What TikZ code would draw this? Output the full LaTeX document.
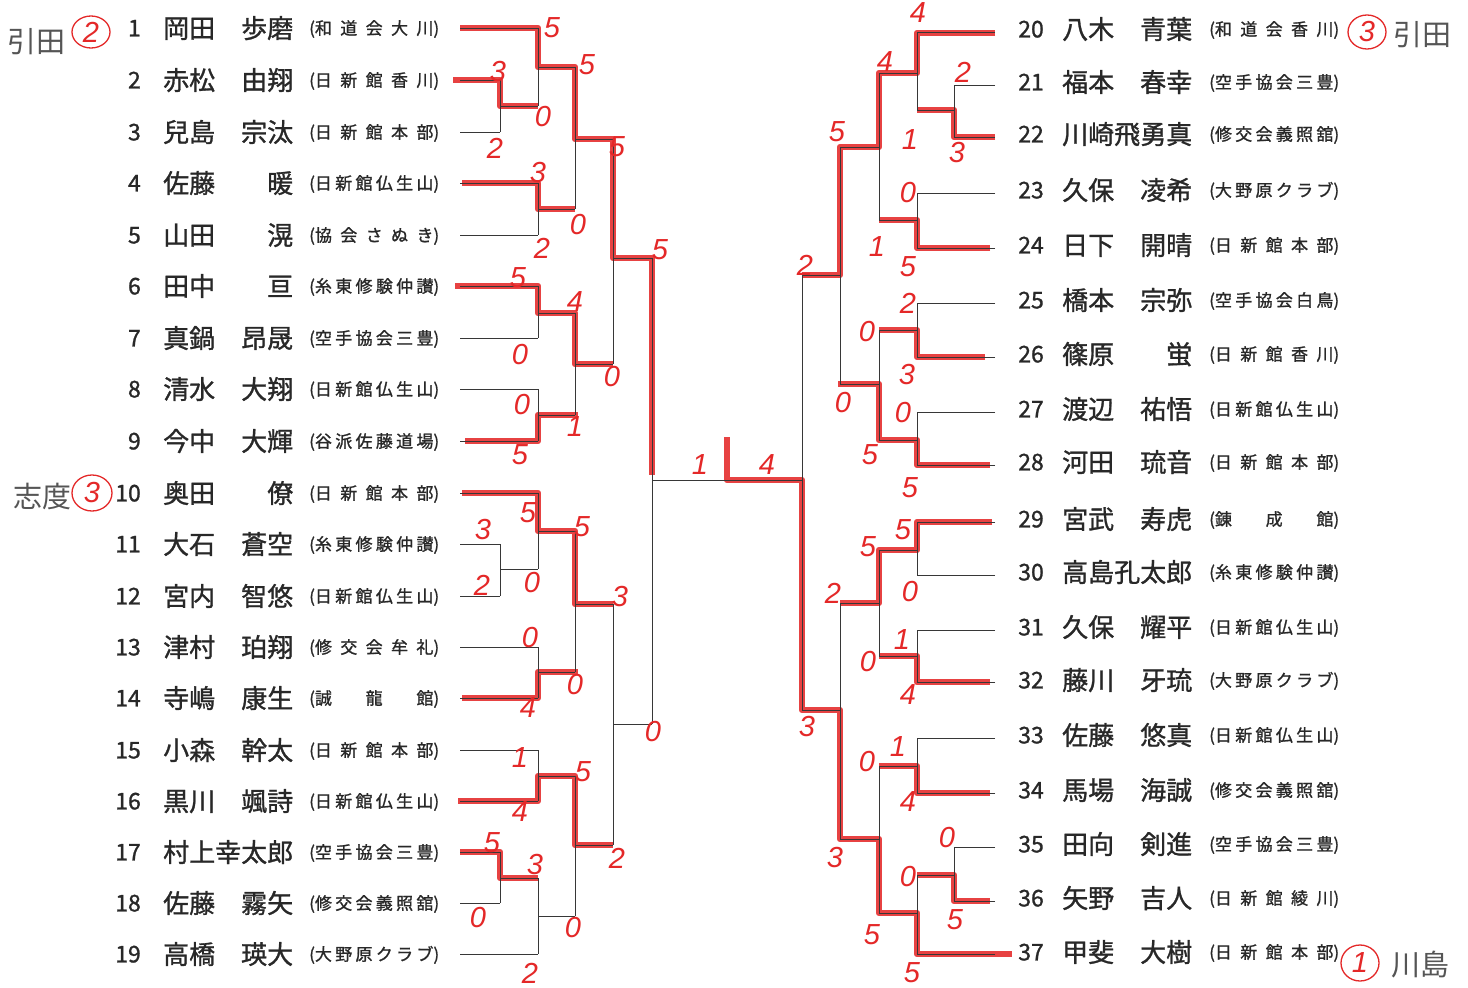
\documentclass[tikz,border=0pt]{standalone}
\usepackage{fontspec}
\setmainfont{Noto Sans CJK JP}
\newfontfamily\entryfont{Noto Sans CJK JP}[FakeBold=1.1]
\newfontfamily\scorefont{Liberation Sans}

\definecolor{pen}{RGB}{228,40,40}
\definecolor{ink}{RGB}{40,40,40}
\definecolor{rule}{RGB}{55,55,55}
\definecolor{pencil}{RGB}{85,85,85}

% club names are spread over a fixed width
\newlength\clubw \setlength\clubw{130pt}
\def\spreadfirst#1#2\relax{#1\spreadrest#2\relax}
\def\spreadrest#1{\ifx\relax#1\else\hfill#1\expandafter\spreadrest\fi}
\newcommand\clubtext[1]{\makebox[\clubw][s]{(\expandafter\spreadfirst#1\relax)}}
\newcommand\namefield[2]{\makebox[130pt][s]{#1\hfill#2}}

\tikzset{
  entrynum/.style={anchor=base east, inner sep=0pt, text=ink, font=\entryfont\fontsize{23}{23}\selectfont},
  entryname/.style={anchor=base west, inner sep=0pt, text=ink, font=\entryfont\fontsize{26}{26}\selectfont},
  entryclub/.style={anchor=base west, inner sep=0pt, text=ink, font=\entryfont\fontsize{17}{17}\selectfont},
  score/.style={inner sep=0pt, text=pen, font=\scorefont\itshape\fontsize{29}{29}\selectfont},
  winpath/.style={draw=pen, line width=6.5pt, line join=round, opacity=0.88},
  bracket/.style={draw=rule, line width=1pt},
  pencilnote/.style={inner sep=0pt, text=pencil, font=\fontsize{29}{29}\selectfont},
}

\begin{document}
\begin{tikzpicture}[x=1pt, y=-1pt]
  \useasboundingbox (0,0) rectangle (1468,988);
  \fill[white] (0,0) rectangle (1468,988);

  % winners: red crayon over the bracket
  \draw[winpath] (460,28) -- (538,28) -- (538,67) -- (575,67) -- (575,139) -- (613,139) -- (613,258) -- (652,258) -- (652,475);
  \draw[winpath] (453,80) -- (500,80) -- (500,106) -- (538,106);
  \draw[winpath] (462,183) -- (538,183) -- (538,209) -- (575,209);
  \draw[winpath] (455,286) -- (538,286) -- (538,313) -- (575,313) -- (575,364) -- (613,364);
  \draw[winpath] (465,441) -- (538,441) -- (538,415) -- (578,415);
  \draw[winpath] (462,493) -- (538,493) -- (538,531) -- (575,531) -- (575,604) -- (613,604);
  \draw[winpath] (462,698) -- (538,698) -- (538,672) -- (578,672);
  \draw[winpath] (458,801) -- (538,801) -- (538,776) -- (575,776) -- (575,845) -- (613,845);
  \draw[winpath] (460,852) -- (500,852) -- (500,878) -- (538,878);
  \draw[winpath] (727,437) -- (727,480) -- (802,480) -- (802,710) -- (840,710) -- (840,839) -- (879,839) -- (879,913) -- (917,913) -- (917,954) -- (1012,954);
  \draw[winpath] (995,33) -- (917,33) -- (917,73) -- (879,73) -- (879,147) -- (840,147) -- (840,275) -- (802,275);
  \draw[winpath] (995,137) -- (954,137) -- (954,110) -- (917,110);
  \draw[winpath] (990,248) -- (917,248) -- (917,220) -- (879,220);
  \draw[winpath] (985,357) -- (917,357) -- (917,330) -- (879,330);
  \draw[winpath] (990,465) -- (917,465) -- (917,440) -- (879,440) -- (879,384) -- (838,384);
  \draw[winpath] (992,522) -- (917,522) -- (917,550) -- (879,550) -- (879,603) -- (840,603);
  \draw[winpath] (990,682) -- (917,682) -- (917,656) -- (879,656);
  \draw[winpath] (990,793) -- (917,793) -- (917,766) -- (879,766);
  \draw[winpath] (990,901) -- (954,901) -- (954,875) -- (917,875);

  % bracket: entry lines
  \foreach \y/\xe in {28/538,80/500,132/500,183/538,235/538,286/538,338/538,389/538,441/538,
                      493/538,544/500,596/500,647/538,698/538,750/538,801/538,852/500,903/500,954/538}
    { \draw[bracket] (460,\y) -- (\xe,\y); }
  \foreach \y/\xs in {32/917,85/954,137/954,193/917,248/917,303/917,357/917,412/917,465/917,
                      522/917,575/917,630/917,682/917,738/917,793/917,847/954,901/954,954/917}
    { \draw[bracket] (995,\y) -- (\xs,\y); }

  % bracket: joins (vertical, then out to the next round)
  \foreach \x/\ya/\yb/\ym/\xn in {500/80/132/106/538, 538/28/106/67/575, 538/183/235/209/575,
      575/67/209/139/613, 538/286/338/313/575, 538/389/441/415/575, 575/313/415/364/613,
      613/139/364/258/652, 500/544/596/569/538, 538/493/569/531/575, 538/647/698/672/575,
      575/531/672/604/613, 538/750/801/776/575, 500/852/903/878/538, 538/878/954/916/575,
      575/776/916/845/613, 613/604/845/724/652, 652/258/724/480/802,
      954/85/137/110/917, 917/32/110/73/879, 917/193/248/220/879, 879/73/220/147/840,
      917/303/357/330/879, 917/412/465/440/879, 879/330/440/384/840, 840/147/384/275/802,
      917/522/575/550/879, 917/630/682/656/879, 879/550/656/603/840, 917/738/793/766/879,
      954/847/901/875/917, 917/875/954/913/879, 879/766/913/839/840, 840/603/839/710/802,
      802/275/710/480/802}
    { \draw[bracket] (\x,\ya) -- (\x,\yb) (\x,\ym) -- (\xn,\ym); }

  % entries, left half
  \foreach \n/\y/\sur/\giv/\club in {1/28/岡田/歩磨/和道会大川, 2/80/赤松/由翔/日新館香川,
      3/132/兒島/宗汰/日新館本部, 4/183/佐藤/暖/日新館仏生山, 5/235/山田/滉/協会さぬき,
      6/286/田中/亘/糸東修験仲讃, 7/338/真鍋/昂晟/空手協会三豊, 8/389/清水/大翔/日新館仏生山,
      9/441/今中/大輝/谷派佐藤道場, 10/493/奥田/僚/日新館本部, 11/544/大石/蒼空/糸東修験仲讃,
      12/596/宮内/智悠/日新館仏生山, 13/647/津村/珀翔/修交会牟礼, 14/698/寺嶋/康生/誠龍館,
      15/750/小森/幹太/日新館本部, 16/801/黒川/颯詩/日新館仏生山, 17/852/村上幸太郎/{}/空手協会三豊,
      18/903/佐藤/霧矢/修交会義照舘, 19/954/高橋/瑛大/大野原クラブ}
  {
    \node[entrynum] (no\n) at (141,\y+8.4) {\n};
    \node[entryname] (nm\n) at (163,\y+9.9) {\namefield{\sur}{\giv}};
    \node[entryclub] (cl\n) at (309,\y+6.5) {\clubtext{\club}};
  }

  % entries, right half
  \foreach \n/\y/\sur/\giv/\club in {20/29/八木/青葉/和道会香川, 21/82/福本/春幸/空手協会三豊,
      22/134/川崎飛勇真/{}/修交会義照舘, 23/190/久保/凌希/大野原クラブ, 24/245/日下/開晴/日新館本部,
      25/300/橋本/宗弥/空手協会白鳥, 26/354/篠原/蛍/日新館香川, 27/409/渡辺/祐悟/日新館仏生山,
      28/462/河田/琉音/日新館本部, 29/519/宮武/寿虎/錬成館, 30/572/高島孔太郎/{}/糸東修験仲讃,
      31/627/久保/耀平/日新館仏生山, 32/680/藤川/牙琉/大野原クラブ, 33/735/佐藤/悠真/日新館仏生山,
      34/790/馬場/海誠/修交会義照舘, 35/844/田向/剣進/空手協会三豊, 36/898/矢野/吉人/日新館綾川,
      37/952/甲斐/大樹/日新館本部}
  {
    \node[entrynum] (no\n) at (1044,\y+8.4) {\n};
    \node[entryname] (nm\n) at (1062,\y+9.9) {\namefield{\sur}{\giv}};
    \node[entryclub] (cl\n) at (1209,\y+6.5) {\clubtext{\club}};
  }

  % scores in red
  \foreach \x/\y/\v [count=\k] in {552/28/5, 587/65/5, 498/72/3, 543/117/0, 495/148/2, 617/147/5,
      538/173/3, 578/225/0, 542/248/2, 660/250/5, 518/278/5, 575/302/4, 520/355/0, 612/377/0,
      522/405/0, 575/427/1, 520/455/5, 528/513/5, 582/527/5, 483/530/3, 482/585/2, 532/583/0,
      620/597/3, 530/638/0, 575/685/0, 528/708/4, 653/732/0, 520/758/1, 583/772/5, 520/812/4,
      492/843/5, 535/865/3, 617/858/2, 478/918/0, 573/928/0, 530/973/2, 700/465/1, 767/465/4,
      918/13/4, 885/62/4, 963/72/2, 837/132/5, 910/140/1, 957/153/3, 908/193/0, 877/247/1,
      908/267/5, 805/265/2, 908/303/2, 867/332/0, 907/375/3, 843/403/0, 903/413/0, 870/455/5,
      910/488/5, 903/530/5, 868/547/5, 910/592/0, 833/593/2, 902/640/1, 868/662/0, 908/695/4,
      807/727/3, 898/747/1, 867/762/0, 908/802/4, 947/838/0, 835/858/3, 908/877/0, 955/920/5,
      872/935/5, 912/973/5}
    { \node[score] (sc\k) at (\x,\y) {\v}; }

  % placings, circled in red, with pencil notes
  \draw[pen, line width=1.3pt] (91,32) ellipse (19 and 16);
  \node[score] (rk1) at (91,32) {2};
  \node[pencilnote] (pn1) at (37,42) {引田};
  \draw[pen, line width=1.3pt] (92,493) ellipse (20 and 18);
  \node[score] (rk10) at (92,493) {3};
  \node[pencilnote] (pn10) at (42,497) {志度};
  \draw[pen, line width=1.3pt] (1367,32) ellipse (19 and 17);
  \node[score] (rk20) at (1367,32) {3};
  \node[pencilnote] (pn20) at (1422,35) {引田};
  \draw[pen, line width=1.3pt] (1360,963) ellipse (19 and 18);
  \node[score] (rk37) at (1360,963) {1};
  \node[pencilnote] (pn37) at (1420,965) {川島};
\end{tikzpicture}
\end{document}
